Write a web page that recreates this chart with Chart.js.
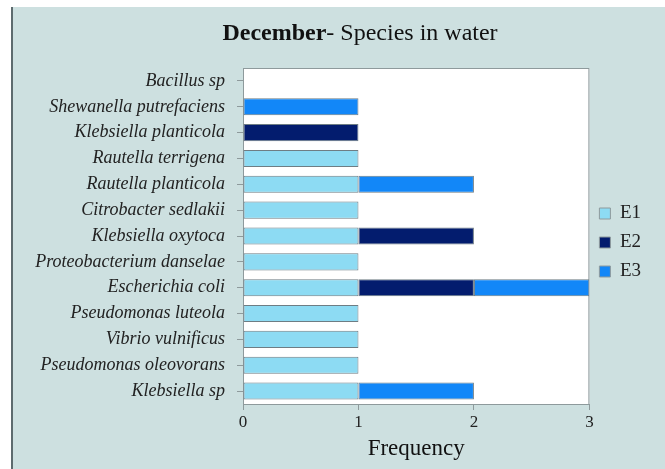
<!DOCTYPE html>
<html>
<head>
<meta charset="utf-8">
<script src="https://cdn.jsdelivr.net/npm/chart.js@4/dist/chart.umd.min.js"></script>
<style>
  html, body { margin: 0; padding: 0; background: #ffffff; }
  #wrap { width: 665px; height: 469px; }
</style>
</head>
<body>
<div id="wrap"><canvas id="chart" width="665" height="469"></canvas></div>
<script>
// species, listed top to bottom as in the picture
const species = [
    'Bacillus sp',
    'Shewanella putrefaciens',
    'Klebsiella planticola',
    'Rautella terrigena',
    'Rautella planticola',
    'Citrobacter sedlakii',
    'Klebsiella oxytoca',
    'Proteobacterium danselae',
    'Escherichia coli',
    'Pseudomonas luteola',
    'Vibrio vulnificus',
    'Pseudomonas oleovorans',
    'Klebsiella sp'
];

// frequency per sampling point (null = none found)
const e1 = [null, null, null, 1, 1, 1, 1, 1, 1, 1, 1, 1, 1];
const e2 = [null, null, 1, null, null, null, 1, null, 1, null, null, null, null];
const e3 = [null, 1, null, null, 1, null, null, null, 1, null, null, null, 1];

const xTicks = [0, 1, 2, 3];

const SERIF = '"Liberation Serif", "DejaVu Serif", serif';
const BG = '#cde0e0';
const EDGE = '#6e7d84';

const frame = {
    id: 'frame',
    beforeDraw(chart) {
        const { ctx, chartArea: a, width, height } = chart;
        ctx.save();
        ctx.fillStyle = '#ffffff';
        ctx.fillRect(0, 0, width, height);
        ctx.fillStyle = BG;
        ctx.fillRect(13, 7, width - 13, height - 7);
        ctx.fillStyle = '#5d6b6e';
        ctx.fillRect(11, 7, 2, height - 7);
        ctx.fillStyle = '#ffffff';
        ctx.fillRect(a.left, a.top, a.right - a.left, a.bottom - a.top);
        ctx.restore();
    },
    beforeDatasetsDraw(chart) {
        const { ctx, chartArea: a } = chart;
        ctx.save();
        ctx.strokeStyle = '#8e9a9c';
        ctx.lineWidth = 1;
        ctx.strokeRect(a.left + 0.5, a.top + 0.5, a.right - a.left - 1, a.bottom - a.top);
        ctx.restore();
    },
    afterDraw(chart) {
        const ctx = chart.ctx;
        ctx.save();
        ctx.textBaseline = 'middle';
        ctx.fillStyle = '#111111';
        const bold = 'bold 24px ' + SERIF;
        const reg = '24px ' + SERIF;
        const t1 = 'December';
        const t2 = '- Species in water';
        ctx.font = bold;
        const w1 = ctx.measureText(t1).width;
        ctx.font = reg;
        const w2 = ctx.measureText(t2).width;
        const x0 = 360 - (w1 + w2) / 2;
        ctx.font = bold;
        ctx.textAlign = 'left';
        ctx.fillText(t1, x0, 34);
        ctx.font = reg;
        ctx.fillText(t2, x0 + w1, 34);
        ctx.restore();
    }
};

function bars(label, data, color) {
    return {
        label: label,
        data: data,
        backgroundColor: color,
        borderColor: EDGE,
        borderWidth: 1,
        borderSkipped: false,
        categoryPercentage: 0.66,
        barPercentage: 1
    };
}

new Chart(document.getElementById('chart').getContext('2d'), {
    type: 'bar',
    data: {
        labels: species,
        datasets: [
            bars('E1', e1, '#8ddbf3'),
            bars('E2', e2, '#031c6e'),
            bars('E3', e3, '#1287f8')
        ]
    },
    plugins: [frame],
    options: {
        indexAxis: 'y',
        responsive: false,
        animation: false,
        layout: { padding: { left: 13, top: 68, right: 14, bottom: 0 } },
        plugins: {
            title: { display: false },
            tooltip: { enabled: false },
            legend: {
                display: true,
                position: 'right',
                align: 'start',
                // empty legend title only pushes the entries down to the middle
                title: { display: true, text: '', font: { size: 10 }, padding: { top: 114, bottom: 0 } },
                labels: {
                    color: '#222222',
                    font: { size: 19, family: SERIF },
                    boxWidth: 11,
                    boxHeight: 11,
                    padding: 10,
                    generateLabels(chart) {
                        return chart.data.datasets.map((ds, i) => ({
                            text: ds.label,
                            fillStyle: ds.backgroundColor,
                            strokeStyle: '#8e9a9c',
                            lineWidth: 1,
                            datasetIndex: i,
                            fontColor: '#222222'
                        }));
                    }
                }
            }
        },
        scales: {
            x: {
                stacked: true,
                min: 0,
                max: 3,
                afterBuildTicks(scale) { scale.ticks = xTicks.map(v => ({ value: v })); },
                afterFit(scale) { scale.height = 65; },
                border: { display: true, color: '#8e9a9c', width: 1 },
                grid: { drawOnChartArea: false, drawTicks: true, tickLength: 6, color: '#8e9a9c' },
                ticks: { color: '#222222', font: { size: 17, family: SERIF }, padding: 2 },
                title: {
                    display: true,
                    text: 'Frequency',
                    color: '#111111',
                    font: { size: 23, family: SERIF },
                    padding: { top: 2, bottom: 6 }
                }
            },
            y: {
                stacked: true,
                offset: true,
                afterFit(scale) { scale.width = 230; },
                border: { display: true, color: '#8e9a9c', width: 1 },
                grid: { offset: false, drawOnChartArea: false, drawTicks: true, tickLength: 6, color: '#8e9a9c' },
                ticks: { color: '#222222', font: { size: 18, style: 'italic', family: SERIF }, padding: 12, autoSkip: false }
            }
        }
    }
});
</script>
</body>
</html>
